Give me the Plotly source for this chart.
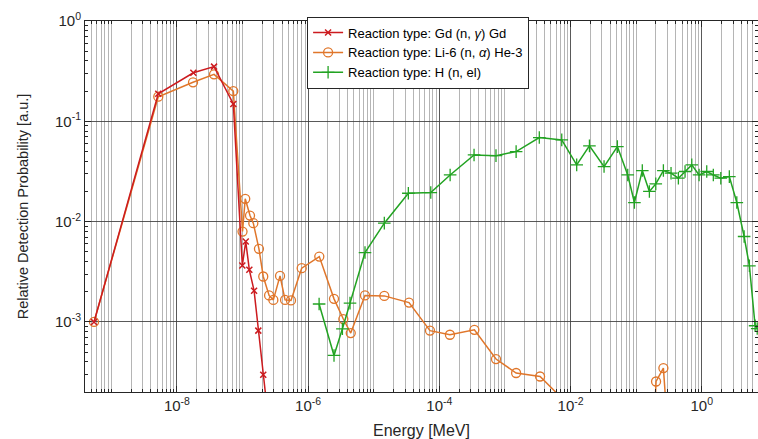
import numpy as np
import plotly.graph_objects as go

# ---- data ----
gd_x = [5.45e-10, 5.2e-9, 1.78e-8, 3.68e-8, 7.24e-8, 9.93e-8, 1.12e-7, 1.27e-7,
        1.5e-7, 1.74e-7, 2.07e-7, 2.5e-7]
gd_y = [1.0e-3, 0.188, 0.305, 0.351, 0.149, 0.00366, 0.00634, 0.00331,
        0.00205, 8.2e-4, 2.98e-4, 1.0e-4]

li_x = [5.45e-10, 5.2e-9, 1.76e-8, 3.68e-8, 7.24e-8, 1.0e-7, 1.1e-7, 1.3e-7, 1.46e-7,
        1.78e-7, 2.07e-7, 2.54e-7, 2.95e-7, 3.73e-7, 4.45e-7, 5.48e-7, 7.98e-7,
        1.48e-6, 2.48e-6, 3.44e-6, 4.46e-6, 7.36e-6, 1.45e-5, 3.45e-5, 7.2e-5,
        1.45e-4, 3.42e-4, 7.3e-4, 1.48e-3, 3.43e-3, 1.15e-2, 0.18, 0.201, 0.26, 0.32]
li_y = [1.0e-3, 0.176, 0.245, 0.294, 0.2, 0.00797, 0.0169, 0.0115, 0.00966,
        0.00536, 0.00284, 0.00184, 0.00166, 0.00288, 0.00166, 0.00164, 0.00344,
        0.00449, 0.0017, 0.00107, 7.75e-4, 0.00184, 0.00182, 0.00156, 8.2e-4,
        7.46e-4, 8.36e-4, 4.27e-4, 3.1e-4, 2.86e-4, 1.3e-4, 5e-5, 2.55e-4, 3.47e-4, 5e-5]

h_x = [1.47e-6, 2.48e-6, 3.33e-6, 4.35e-6, 7.36e-6, 1.45e-5, 3.37e-5, 7.4e-5,
       1.46e-4, 3.38e-4, 7.3e-4, 1.48e-3, 3.34e-3, 7.34e-3, 0.0124, 0.0194,
       0.0324, 0.0517, 0.0744, 0.094, 0.124, 0.159, 0.199, 0.26, 0.34, 0.44,
       0.556, 0.704, 0.91, 1.19, 1.5, 1.95, 2.63, 3.42, 4.42, 5.32, 6.5, 7.0]
h_y = [0.00151, 4.64e-4, 8.55e-4, 0.00154, 0.00492, 0.00966, 0.0192, 0.0195,
       0.0292, 0.0462, 0.0455, 0.0499, 0.0689, 0.0653, 0.0368, 0.0569,
       0.0354, 0.056, 0.0292, 0.0155, 0.0323, 0.02, 0.0238, 0.0323, 0.0304, 0.0271,
       0.0316, 0.0368, 0.0292, 0.0316, 0.0292, 0.0271, 0.0281, 0.0155, 0.00711,
       0.00363, 9.17e-4, 8.6e-4]

names = ["Reaction type: Gd (n, <i>γ</i>) Gd",
         "Reaction type: Li-6 (n, <i>α</i>) He-3",
         "Reaction type: H (n, el)"]

x_major = [1e-8, 1e-6, 1e-4, 1e-2, 1e0]
x_major_text = ["10<sup>-8</sup>", "10<sup>-6</sup>", "10<sup>-4</sup>",
                "10<sup>-2</sup>", "10<sup>0</sup>"]
y_major = [1e-3, 1e-2, 1e-1, 1e0]
y_major_text = ["10<sup>-3</sup>", "10<sup>-2</sup>", "10<sup>-1</sup>", "10<sup>0</sup>"]

x_minor = [d * 10.0 ** k for k in range(-10, 2) for d in range(1, 10)
           if not (d == 1 and k % 2 == 0)]
y_minor = [d * 10.0 ** k for k in range(-5, 1) for d in range(2, 10)]

RED = "#CC1B1F"
ORANGE = "#E0762A"
GREEN = "#22A322"
TXT = "#262626"

fig = go.Figure()
fig.add_trace(go.Scatter(x=li_x, y=li_y, name=names[1], mode="lines+markers",
                         legendrank=2,
                         line=dict(color=ORANGE, width=1.5),
                         marker=dict(symbol="circle-open", size=9,
                                     line=dict(color=ORANGE, width=1.3), color=ORANGE)))
fig.add_trace(go.Scatter(x=gd_x, y=gd_y, name=names[0], mode="lines+markers",
                         legendrank=1,
                         line=dict(color=RED, width=1.5),
                         marker=dict(symbol="x-thin", size=6,
                                     line=dict(color=RED, width=1.5), color=RED)))
fig.add_trace(go.Scatter(x=h_x, y=h_y, name=names[2], mode="lines+markers",
                         legendrank=3,
                         line=dict(color=GREEN, width=1.5),
                         marker=dict(symbol="cross-thin", size=9,
                                     line=dict(color=GREEN, width=1.3), color=GREEN)))

fig.update_layout(
    width=758, height=439,
    margin=dict(l=85, r=0, t=21, b=47),
    paper_bgcolor="white", plot_bgcolor="white",
    font=dict(family="Liberation Sans, Arial, sans-serif", color=TXT, size=14),
    showlegend=True,
    legend=dict(x=0.33, y=1.012, xanchor="left", yanchor="top",
                bgcolor="white", bordercolor=TXT, borderwidth=1,
                font=dict(size=13, color="black"),
                tracegroupgap=0, itemwidth=30),
    xaxis=dict(type="log", range=[-9.401, 0.857],
               tickvals=x_major, ticktext=x_major_text,
               ticks="inside", ticklen=6, tickcolor=TXT,
               showgrid=True, gridcolor="rgba(60,60,60,0.85)", gridwidth=1,
               showline=True, linecolor=TXT, linewidth=1, mirror="ticks",
               zeroline=False, tickfont=dict(size=15),
               minor=dict(tickvals=x_minor, ticks="inside", ticklen=3,
                          tickcolor=TXT, showgrid=True,
                          gridcolor="rgba(150,150,150,0.7)", gridwidth=1),
               title=dict(text="Energy [MeV]", font=dict(size=16), standoff=12)),
    yaxis=dict(type="log", range=[-3.698, 0],
               tickvals=y_major, ticktext=y_major_text,
               ticks="inside", ticklen=6, tickcolor=TXT,
               showgrid=True, gridcolor="rgba(60,60,60,0.85)", gridwidth=1,
               showline=True, linecolor=TXT, linewidth=1, mirror="ticks",
               zeroline=False, tickfont=dict(size=15),
               minor=dict(tickvals=y_minor, ticks="inside", ticklen=3,
                          tickcolor=TXT, showgrid=False),
               title=dict(text="Relative Detection Probability [a.u.]",
                          font=dict(size=14.5), standoff=22)),
)

fig.write_html("out.html")
